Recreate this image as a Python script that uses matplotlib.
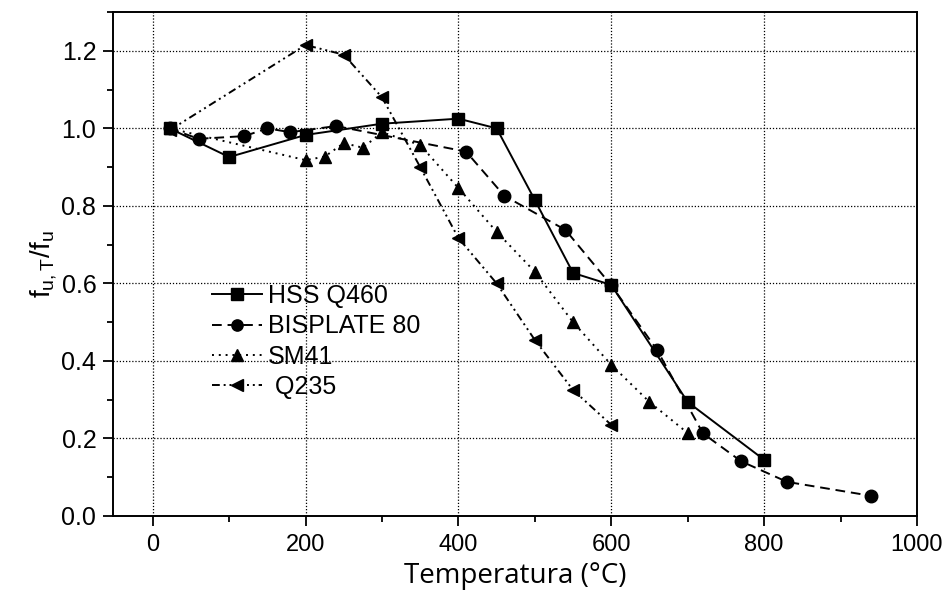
import matplotlib
matplotlib.use('Agg')
import matplotlib.pyplot as plt
from matplotlib.ticker import MultipleLocator

plt.rcParams['font.family'] = ['Liberation Sans', 'DejaVu Sans']

# HSS Q460
hss_t = [22, 100, 200, 300, 400, 450, 500, 550, 600, 700, 800]
hss_r = [1.0, 0.926, 0.983, 1.012, 1.025, 1.0, 0.815, 0.627, 0.596, 0.294, 0.145]

# BISPLATE 80
bis_t = [22, 60, 120, 150, 180, 240, 410, 460, 540, 600, 660, 720, 770, 830, 940]
bis_r = [1.0, 0.973, 0.98, 1.0, 0.99, 1.006, 0.94, 0.826, 0.738, 0.595, 0.428, 0.213, 0.141, 0.088, 0.052]

# SM41
sm_t = [22, 200, 225, 250, 275, 300, 350, 400, 450, 500, 550, 600, 650, 700]
sm_r = [1.0, 0.918, 0.927, 0.962, 0.95, 0.99, 0.957, 0.846, 0.733, 0.63, 0.5, 0.39, 0.294, 0.214]

# Q235
q_t = [22, 200, 250, 300, 350, 400, 450, 500, 550, 600]
q_r = [0.995, 1.215, 1.19, 1.08, 0.9, 0.717, 0.6, 0.454, 0.325, 0.235]

fig = plt.figure(figsize=(9.52, 6.03), dpi=100)
ax = fig.add_axes([0.1187, 0.1443, 0.9632 - 0.1187, 0.98 - 0.1443])

lw = 1.4
ms = 9
ax.plot(hss_t, hss_r, '-', color='black', lw=lw, marker='s', ms=ms, label='HSS Q460')
ax.plot(bis_t, bis_r, color='black', lw=lw, ls=(0, (5, 3)), marker='o', ms=ms, label='BISPLATE 80')
ax.plot(sm_t, sm_r, color='black', lw=lw, ls=(0, (1, 2.5)), marker='^', ms=ms, label='SM41')
ax.plot(q_t, q_r, color='black', lw=lw, ls=(0, (4, 2, 1, 2, 1, 2)), marker='<', ms=ms, label=' Q235')

ax.set_xlim(-52, 1000)
ax.set_ylim(0, 1.3)
ax.xaxis.set_major_locator(MultipleLocator(200))
ax.xaxis.set_minor_locator(MultipleLocator(100))
ax.yaxis.set_major_locator(MultipleLocator(0.2))
ax.yaxis.set_minor_locator(MultipleLocator(0.1))
ax.yaxis.set_major_formatter(matplotlib.ticker.FormatStrFormatter('%.1f'))
ax.tick_params(which='major', direction='out', length=7, width=1.3)
ax.tick_params(which='minor', direction='out', length=4, width=1.3)
ax.tick_params(axis='x', labelsize=17, pad=6)
ax.tick_params(axis='y', labelsize=18, pad=5)
ax.grid(True, which='major', color='black', ls=(0, (1, 1.5)), lw=0.9)
for s in ax.spines.values():
    s.set_linewidth(1.4)

ax.set_xlabel('Temperatura (°C)', fontsize=20, family=['Open Sans', 'DejaVu Sans'], labelpad=4)
ax.set_ylabel(r'$\mathregular{f_{u,T}/f_u}$', fontsize=20, labelpad=2)

leg = ax.legend(loc='upper left', bbox_to_anchor=(0.095, 0.505), frameon=False,
                fontsize=18, handlelength=2.0, handletextpad=0.25, labelspacing=0.25,
                markerscale=0.9)

fig.savefig('out.png', dpi=100, facecolor='white')
